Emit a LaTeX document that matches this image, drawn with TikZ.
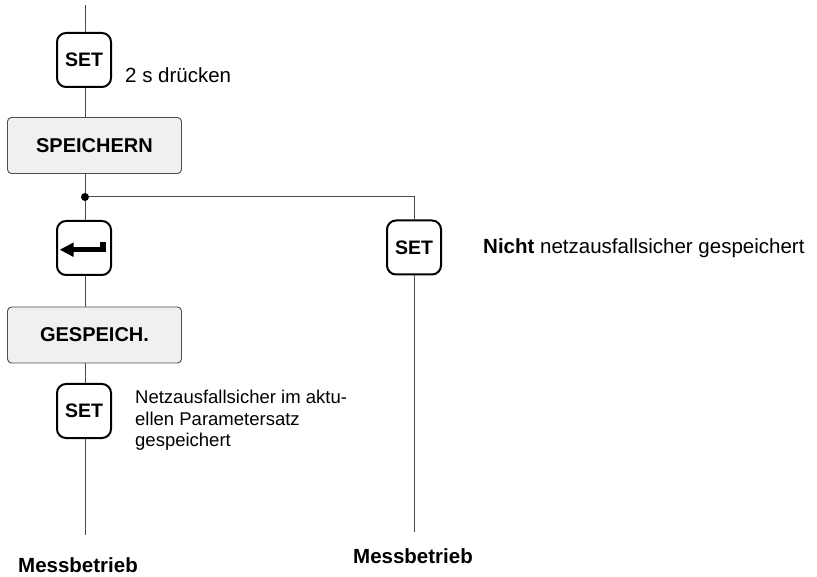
\documentclass[tikz,border=0pt]{standalone}
\usepackage{fontspec}
\setmainfont{Liberation Sans}
\begin{document}
\begin{tikzpicture}[x=1pt,y=-1pt,
  keybtn/.style={draw=black,line width=2pt,rounded corners=9pt,minimum width=54pt,minimum height=54pt,inner sep=0pt,font=\fontsize{19.5}{21}\selectfont\bfseries},
  graybox/.style={draw=black!70,line width=0.9pt,fill=black!6,rounded corners=4pt,minimum width=174pt,minimum height=56pt,inner sep=0pt,font=\fontsize{20}{22}\selectfont\bfseries},
  conn/.style={draw=black!70,line width=1pt},
  lbl/.style={inner sep=0pt,font=\fontsize{20.5}{24}\selectfont},
  endlbl/.style={inner sep=0pt,font=\fontsize{20.5}{24}\selectfont\bfseries}]
\useasboundingbox (0,0) rectangle (817,577);
\coordinate (top) at (85,5);
\node[keybtn] (set1) at (84,60) {SET};
\node[lbl,anchor=west] (t1) at (125,75) {2 s drücken};
\node[graybox] (spe) at (94.5,145.5) {SPEICHERN};
\coordinate (dot) at (85,197);
\coordinate (corner) at (414,197);
\node[keybtn] (enter) at (84,248) {};
\node[graybox] (ges) at (94.5,335) {GESPEICH.};
\node[keybtn] (set3) at (84,411) {SET};
\node[inner sep=0pt,anchor=north west,align=left,font=\fontsize{18.5}{21.5}\selectfont] (t3) at (135,390) {Netzausfallsicher im aktu-\\ellen Parametersatz\\gespeichert};
\coordinate (end1) at (85,535);
\node[endlbl,anchor=base] (m1) at (78,572) {Messbetrieb};
\node[keybtn] (set2) at (414,247.5) {SET};
\node[lbl,anchor=west] (t2) at (483,248) {\textbf{Nicht} netzausfallsicher gespeichert};
\coordinate (end2) at (414,532);
\node[endlbl,anchor=base] (m2) at (413,563) {Messbetrieb};
% connectors
\draw[conn] (top) -- (top |- set1.north);
\draw[conn] (set1.south -| top) -- (top |- spe.north);
\draw[conn] (top |- spe.south) -- (dot);
\draw[conn] (dot) -- (top |- enter.north);
\draw[conn] (top |- enter.south) -- (top |- ges.north);
\draw[conn] (top |- ges.south) -- (top |- set3.north);
\draw[conn] (top |- set3.south) -- (end1);
\draw[conn] (dot) -- (corner) -- (set2.north);
\draw[conn] (set2.south) -- (end2);
\fill[black] (dot) circle (4pt);
% enter arrow icon
\fill[black] (100,242) rectangle (105.5,252.5);
\fill[black] (72,247) rectangle (105.5,252.5);
\fill[black] (60,249.7) -- (73.5,242.5) -- (73.5,257) -- cycle;
\end{tikzpicture}
\end{document}
